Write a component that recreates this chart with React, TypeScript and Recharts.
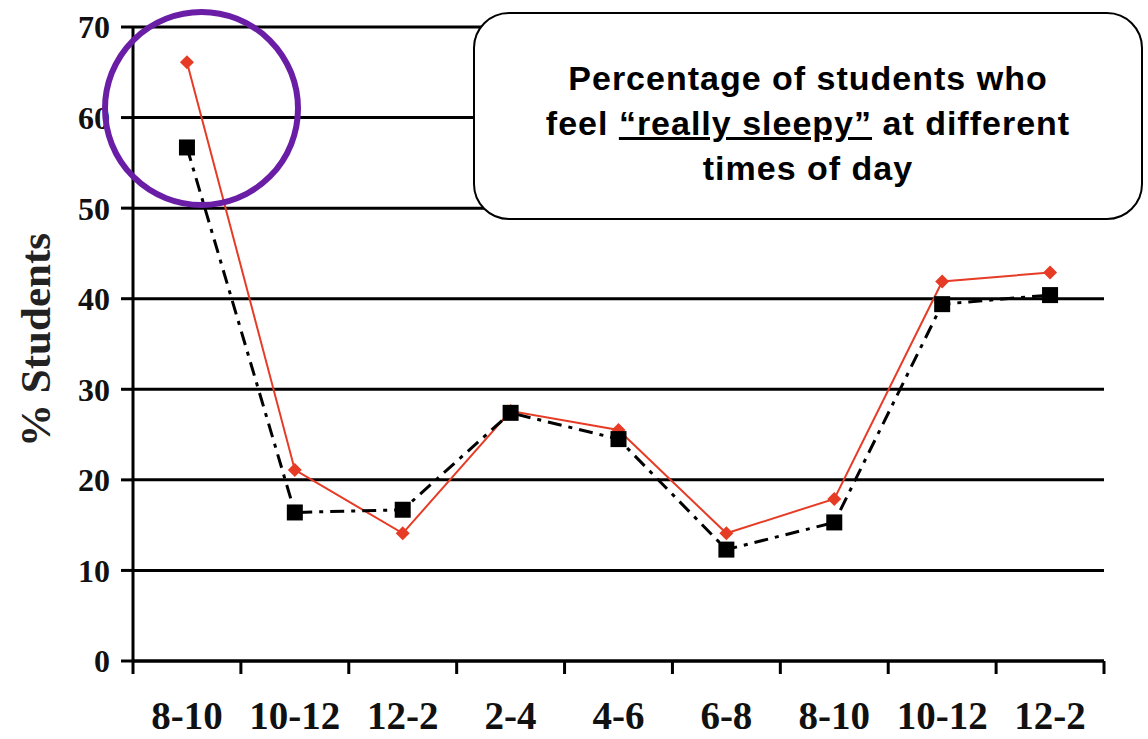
import { LineChart, Line, XAxis, YAxis, CartesianGrid, Label } from "recharts";

const timeSlots = ["8-10", "10-12", "12-2", "2-4", "4-6", "6-8", "8-10", "10-12", "12-2"];
const redSeries = [66.1, 21.1, 14.1, 27.6, 25.5, 14.1, 17.9, 41.9, 42.9];
const blackSeries = [56.7, 16.4, 16.7, 27.4, 24.5, 12.3, 15.3, 39.4, 40.4];
const yTicks = [0, 10, 20, 30, 40, 50, 60, 70];

const data = timeSlots.map((slot, i) => ({
  slot: `${slot}#${i}`,
  red: redSeries[i],
  black: blackSeries[i],
}));

const RED = "#e63c26";
const serif = "'Liberation Serif', 'Times New Roman', serif";

interface DotProps {
  cx?: number;
  cy?: number;
  index?: number;
}

function RedDot({ cx, cy, index }: DotProps) {
  if (cx == null || cy == null) return null;
  const s = 7;
  return (
    <path
      key={`r${index}`}
      d={`M${cx},${cy - s} L${cx + s},${cy} L${cx},${cy + s} L${cx - s},${cy} Z`}
      fill={RED}
    />
  );
}

function SquareDot({ cx, cy, index }: DotProps) {
  if (cx == null || cy == null) return null;
  return <rect key={`b${index}`} x={cx - 8} y={cy - 8} width={16} height={16} fill="#000" />;
}

interface TickProps {
  x?: number;
  y?: number;
  index?: number;
  payload?: { value: string; offset: number };
}

// labels sit in the band centre, tick marks on the band edges
function SlotTick({ x = 0, y = 0, index = 0, payload }: TickProps) {
  const off = payload?.offset ?? 0;
  const last = index === timeSlots.length - 1;
  return (
    <g>
      <line x1={x - off} x2={x - off} y1={y} y2={y + 13} stroke="#000" strokeWidth={3} />
      {last && <line x1={x + off} x2={x + off} y1={y} y2={y + 13} stroke="#000" strokeWidth={3} />}
      <text
        x={x}
        y={y + 68}
        textAnchor="middle"
        fontFamily={serif}
        fontWeight="bold"
        fontSize={39}
        fill="#111"
      >
        {payload ? payload.value.split("#")[0] : ""}
      </text>
    </g>
  );
}

export default function App() {
  return (
    <div style={{ position: "absolute", left: 0, top: 0, width: 1148, height: 739, background: "#fff" }}>
      <LineChart
        width={1148}
        height={739}
        data={data}
        margin={{ top: 27, right: 44, bottom: 0, left: 0 }}
      >
        <CartesianGrid horizontal vertical={false} stroke="#000" strokeWidth={3} />
        <XAxis
          dataKey="slot"
          scale="band"
          height={78}
          tickSize={0}
          tickMargin={0}
          tickLine={false}
          axisLine={{ stroke: "#000", strokeWidth: 3 }}
          tick={<SlotTick />}
          interval={0}
        />
        <YAxis
          width={133}
          domain={[0, 70]}
          ticks={yTicks}
          tickSize={12}
          tickMargin={11}
          tickLine={{ stroke: "#000", strokeWidth: 3 }}
          axisLine={{ stroke: "#000", strokeWidth: 3 }}
          tick={{ fill: "#111", fontFamily: serif, fontWeight: "bold", fontSize: 32 }}
        >
          <Label
            content={() => (
              <text
                x={50}
                y={340}
                transform="rotate(-90 50 340)"
                textAnchor="middle"
                fontFamily={serif}
                fontWeight="bold"
                fontSize={43}
                fill="#222"
              >
                % Students
              </text>
            )}
          />
        </YAxis>
        <Line
          dataKey="red"
          stroke={RED}
          strokeWidth={2}
          dot={<RedDot />}
          activeDot={false}
          isAnimationActive={false}
        />
        <Line
          dataKey="black"
          stroke="#000"
          strokeWidth={3}
          strokeDasharray="14 7 4 7"
          dot={<SquareDot />}
          activeDot={false}
          isAnimationActive={false}
        />
      </LineChart>

      <div
        style={{
          position: "absolute",
          left: 102,
          top: 9,
          width: 199,
          height: 199,
          boxSizing: "border-box",
          border: "6px solid #6a1ea6",
          borderRadius: "50%",
        }}
      />

      <div
        style={{
          position: "absolute",
          left: 473,
          top: 12,
          width: 670,
          height: 208,
          boxSizing: "border-box",
          border: "2px solid #000",
          borderRadius: 36,
          background: "#fff",
          fontFamily: "'Liberation Sans', Arial, sans-serif",
          fontWeight: "bold",
          fontSize: 34,
          letterSpacing: 1,
          lineHeight: "45px",
          textAlign: "center",
          paddingTop: 42,
          color: "#000",
        }}
      >
        Percentage of students who
        <br />
        feel <span style={{ textDecoration: "underline" }}>“really sleepy”</span> at different
        <br />
        times of day
      </div>
    </div>
  );
}
